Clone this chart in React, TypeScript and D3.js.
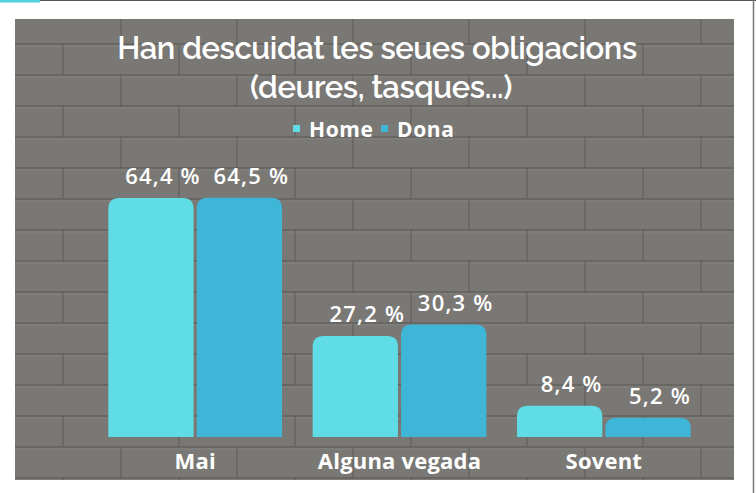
import React from "react";
import * as d3 from "d3";

const categories = ["Mai", "Alguna vegada", "Sovent"];
const seriesNames = ["Home", "Dona"];
const homeValues = [64.4, 27.2, 8.4];
const donaValues = [64.5, 30.3, 5.2];
const valueLabels = [
  ["64,4 %", "64,5 %"],
  ["27,2 %", "30,3 %"],
  ["8,4 %", "5,2 %"],
];
const colors = ["#5fdce5", "#3fb5d7"];

const W = 756;
const H = 493;
const panel = { x: 15, y: 19, w: 719, h: 461 };
const baseY = 437;

function roundedTopBar(x: number, y: number, w: number, h: number, r: number) {
  const rr = Math.min(r, h, w / 2);
  return `M${x},${y + h}V${y + rr}Q${x},${y} ${x + rr},${y}H${x + w - rr}Q${x + w},${y} ${x + w},${y + rr}V${y + h}Z`;
}

export default function App() {
  const x0 = d3.scaleBand<string>().domain(categories).range([93, 706]).paddingInner(0.15).paddingOuter(0.075);
  const x1 = d3.scaleBand<string>().domain(seriesNames).range([0, x0.bandwidth()]).paddingInner(0.035);
  const y = d3.scaleLinear().domain([0, 100]).range([baseY, baseY - 371]);

  const data = categories.map((c, i) => ({ c, vals: [homeValues[i], donaValues[i]] }));

  const rowH = 31;
  const brickW = 116;
  const bricks: JSX.Element[] = [];
  let ri = 0;
  for (let yy = panel.y - 6; yy < panel.y + panel.h; yy += rowH, ri++) {
    bricks.push(
      <line key={`h${ri}`} x1={panel.x} x2={panel.x + panel.w} y1={yy} y2={yy} stroke="#55534f" strokeWidth={1.4} opacity={0.6} />
    );
    bricks.push(
      <line key={`hl${ri}`} x1={panel.x} x2={panel.x + panel.w} y1={yy + 2} y2={yy + 2} stroke="#8e8c89" strokeWidth={1} opacity={0.5} />
    );
    const off = ri % 2 === 0 ? 0 : brickW / 2;
    let bi = 0;
    for (let xx = panel.x + off - 10; xx < panel.x + panel.w; xx += brickW, bi++) {
      bricks.push(
        <line key={`v${ri}_${bi}`} x1={xx} x2={xx} y1={yy} y2={yy + rowH} stroke="#55534f" strokeWidth={1.3} opacity={0.55} />
      );
    }
  }

  const titleFont = "Raleway, 'Open Sans', sans-serif";
  const font = "'Open Sans', sans-serif";

  return (
    <svg width={W} height={H} style={{ position: "absolute", left: 0, top: 0 }}>
      <defs>
        <clipPath id="panelClip">
          <rect x={panel.x} y={panel.y} width={panel.w} height={panel.h} />
        </clipPath>
      </defs>
      <rect x={0} y={0} width={W} height={H} fill="#ffffff" />
      <line x1={0} x2={40} y1={1} y2={1} stroke="#4fd2dc" strokeWidth={3} />
      <line x1={40} x2={W} y1={0.5} y2={0.5} stroke="#555" strokeWidth={1} />
      <line x1={W - 2.5} x2={W - 2.5} y1={0} y2={H} stroke="#777" strokeWidth={1.5} />
      <rect x={panel.x} y={panel.y} width={panel.w} height={panel.h} fill="#7a7875" />
      <g clipPath="url(#panelClip)">{bricks}</g>

      <text x={377} y={59} textAnchor="middle" fill="#ffffff" fontFamily={titleFont} fontSize={31} fontWeight={600} letterSpacing={-0.4}>
        Han descuidat les seues obligacions
      </text>
      <text x={381} y={98} textAnchor="middle" fill="#ffffff" fontFamily={titleFont} fontSize={31} fontWeight={600} letterSpacing={-0.4}>
        (deures, tasques...)
      </text>

      {seriesNames.map((s, i) => {
        const lx = [293, 381][i];
        return (
          <g key={s}>
            <rect x={lx} y={125} width={7} height={7} fill={colors[i]} />
            <text x={lx + 16} y={137} fill="#ffffff" fontFamily={font} fontWeight={700} fontSize={21} letterSpacing={0.6}>
              {s}
            </text>
          </g>
        );
      })}

      {data.map((d, ci) => (
        <g key={d.c} transform={`translate(${x0(d.c)},0)`}>
          {d.vals.map((v, si) => {
            const bx = x1(seriesNames[si])!;
            const bw = x1.bandwidth();
            const by = y(v);
            return (
              <g key={si}>
                <path d={roundedTopBar(bx, by, bw, baseY - by, 11)} fill={colors[si]} />
                <text
                  x={bx + bw / 2 + 12}
                  y={by - 14}
                  textAnchor="middle"
                  fill="#ffffff"
                  fontFamily={font}
                  fontWeight={600}
                  fontSize={22}
                  letterSpacing={1.2}
                >
                  {valueLabels[ci][si]}
                </text>
              </g>
            );
          })}
          <text
            x={x0.bandwidth() / 2}
            y={469}
            textAnchor="middle"
            fill="#ffffff"
            fontFamily={font}
            fontWeight={700}
            fontSize={22}
            letterSpacing={0.2}
          >
            {d.c}
          </text>
        </g>
      ))}
    </svg>
  );
}
